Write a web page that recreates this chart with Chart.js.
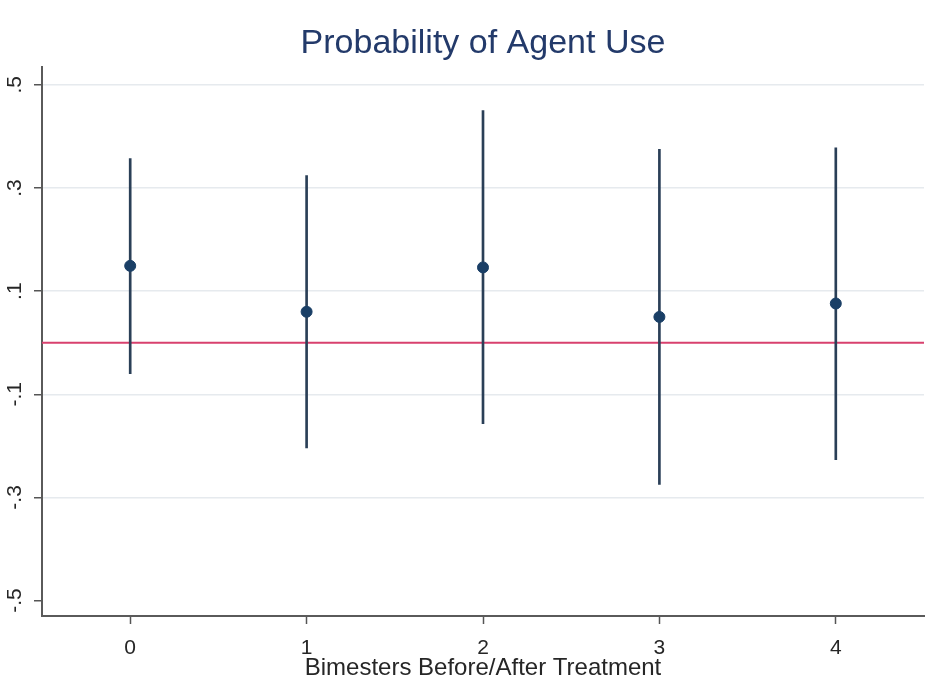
<!DOCTYPE html>
<html>
<head>
<meta charset="utf-8">
<script src="https://cdn.jsdelivr.net/npm/chart.js@4.4.0/dist/chart.umd.min.js"></script>
<style>
  html, body { margin: 0; padding: 0; background: #ffffff; }
  #wrap { width: 947px; height: 687px; }
</style>
</head>
<body>
<div id="wrap"><canvas id="coef-plot"></canvas></div>
<script>
// values
const periods = [0, 1, 2, 3, 4];
const estimates = [0.149, 0.060, 0.146, 0.050, 0.076];
const ciLow = [-0.060, -0.204, -0.157, -0.275, -0.227];
const ciHigh = [0.357, 0.324, 0.450, 0.375, 0.378];
const xTicks = [0, 1, 2, 3, 4];
const yTicks = [-0.5, -0.3, -0.1, 0.1, 0.3, 0.5];
const refLine = 0;

const FONT = "'Liberation Sans', Arial, sans-serif";

function yLabel(v) {
    // Stata style: .5, -.3 ...
    let s = String(Math.round(v * 10) / 10);
    return s.replace('0.', '.');
}

new Chart(document.getElementById('coef-plot').getContext('2d'), {
    data: {
        datasets: [
            {
                type: 'line',
                data: [{ x: -0.5, y: refLine }, { x: 4.5, y: refLine }],
                borderColor: '#d8416e',
                borderWidth: 2,
                pointRadius: 0,
                order: 3,
            },
            {
                type: 'bar',
                data: periods.map((p, i) => ({ x: p, y: [ciLow[i], ciHigh[i]] })),
                backgroundColor: '#2a3f57',
                barThickness: 2,
                order: 2,
            },
            {
                type: 'scatter',
                data: periods.map((p, i) => ({ x: p, y: estimates[i] })),
                backgroundColor: '#1a3f66',
                borderColor: '#1a3f66',
                pointRadius: 5.5,
                order: 1,
            },
        ],
    },
    options: {
        responsive: true,
        maintainAspectRatio: false,
        animation: false,
        layout: { padding: { left: 0, right: 23, top: 0, bottom: 0 } },
        plugins: {
            legend: { display: false },
            tooltip: { enabled: false },
            title: {
                display: true,
                fullSize: false,
                text: 'Probability of Agent Use',
                color: '#233a6a',
                font: { family: FONT, size: 34, weight: 'normal' },
                padding: { top: 23, bottom: 3 },
            },
        },
        scales: {
            x: {
                type: 'linear',
                min: -0.5,
                max: 4.5,
                offset: false,
                afterBuildTicks: (scale) => { scale.ticks = xTicks.map(v => ({ value: v })); },
                afterFit: (scale) => { scale.height = 71; },
                grid: { offset: false, drawOnChartArea: false, tickLength: 8, tickColor: '#555555', tickWidth: 1.5 },
                border: { color: '#5a5a5a', width: 2 },
                ticks: {
                    color: '#262626',
                    font: { family: FONT, size: 21 },
                    padding: 12,
                    maxRotation: 0,
                    callback: (v) => String(v),
                },
                title: {
                    display: true,
                    text: 'Bimesters Before/After Treatment',
                    color: '#262626',
                    font: { family: FONT, size: 24 },
                    padding: { top: 0, bottom: 4 },
                },
            },
            y: {
                type: 'linear',
                min: -0.53,
                max: 0.535,
                afterBuildTicks: (scale) => { scale.ticks = yTicks.map(v => ({ value: v })); },
                afterFit: (scale) => { scale.width = 42; },
                grid: {
                    color: (ctx) => (ctx.tick && ctx.tick.value === -0.5 ? 'rgba(0,0,0,0)' : '#e6eaee'),
                    lineWidth: 1.5,
                    tickLength: 8,
                    tickColor: '#555555',
                    tickWidth: 1.5,
                },
                border: { color: '#5a5a5a', width: 2 },
                ticks: {
                    color: '#262626',
                    font: { family: FONT, size: 21 },
                    padding: 7,
                    minRotation: 90,
                    maxRotation: 90,
                    crossAlign: 'center',
                    callback: (v) => yLabel(v),
                },
            },
        },
    },
});
</script>
</body>
</html>
